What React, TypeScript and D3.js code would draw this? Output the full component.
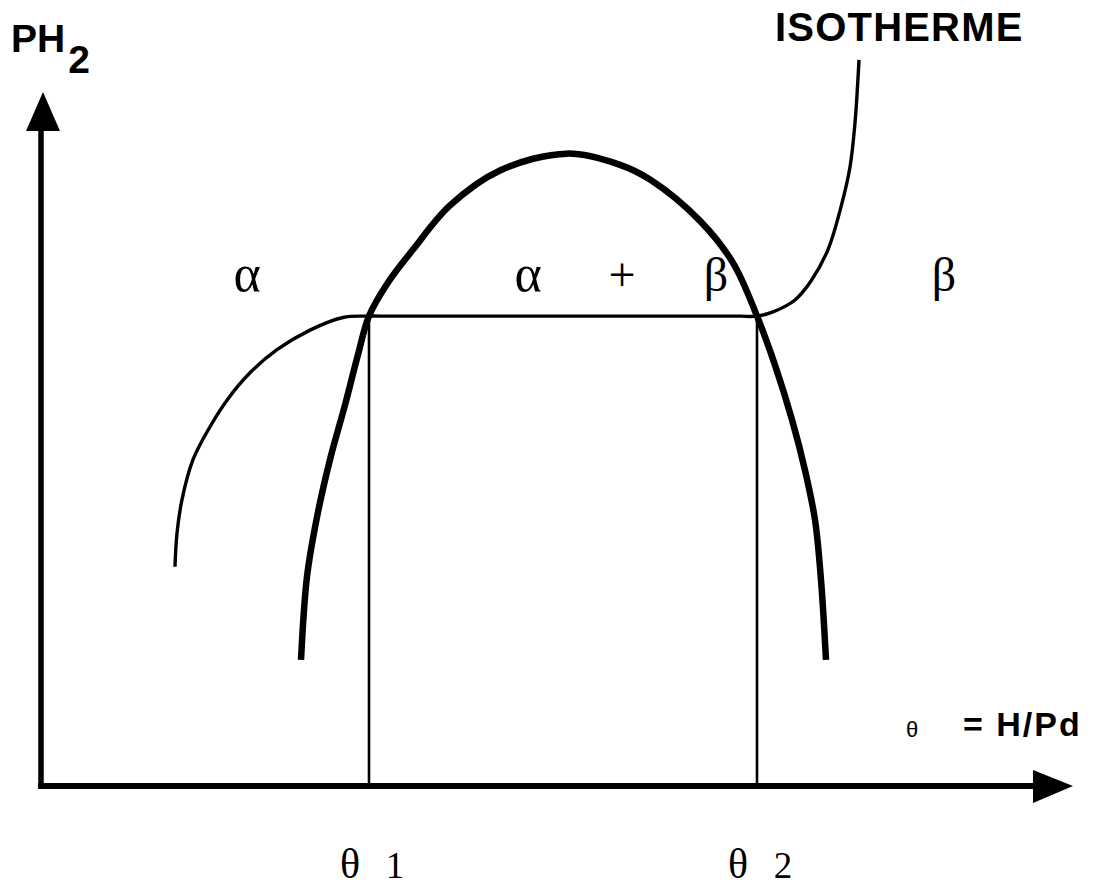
import React from "react";
import * as d3 from "d3";

// schematic units: x = H/Pd, y = PH2 (arbitrary)
const domeX = [2.6, 2.66, 2.76, 2.89, 3.04, 3.17, 3.28, 3.47, 3.72, 4.09, 4.59, 5.26, 5.79, 6.09, 6.59, 6.92, 7.16, 7.34, 7.51, 7.64, 7.74, 7.8, 7.85];
const domeY = [1.8, 2.99, 3.84, 4.66, 5.44, 6.16, 6.71, 7.19, 7.66, 8.29, 8.79, 9.03, 8.87, 8.66, 8.07, 7.47, 6.71, 6.01, 5.23, 4.51, 3.8, 2.94, 1.8];

// isotherm: alpha branch, plateau, beta branch
const isoAlphaX = [1.34, 1.36, 1.41, 1.52, 1.69, 1.86, 2.09, 2.36, 2.69, 3.02, 3.24, 3.4];
const isoAlphaY = [3.13, 3.61, 4.09, 4.66, 5.13, 5.51, 5.9, 6.23, 6.51, 6.69, 6.71, 6.71];
const isoBetaX = [7.0, 7.16, 7.32, 7.54, 7.7, 7.87, 8.0, 8.09, 8.14, 8.18];
const isoBetaY = [6.71, 6.71, 6.77, 6.94, 7.21, 7.66, 8.27, 8.84, 9.47, 10.37];

const plateau = 6.71;
const thetas = [3.28, 7.16];
const thetaNames = ["1", "2"];

const phaseLabels = ["α", "α", "+", "β", "β"];
const phaseX = [2.06, 4.87, 5.81, 6.75, 9.03];
const phaseY = 7.07;

const xMax = 10.32;
const yMax = 9.91;

const W = 1095;
const H = 888;

const App = () => {
  const x = d3.scaleLinear().domain([0, xMax]).range([41, 1073]);
  const y = d3.scaleLinear().domain([0, yMax]).range([786, 92]);

  const curve = (xs: number[]) =>
    d3
      .line<number>()
      .x((d, i) => x(xs[i]))
      .y((d) => y(d))
      .curve(d3.curveCatmullRom.alpha(0.5));

  const x0 = x(0);
  const y0 = y(0);
  const serif = "'Liberation Serif', 'Times New Roman', serif";
  const sans = "'Liberation Sans', Arial, Helvetica, sans-serif";

  return (
    <svg
      width={W}
      height={H}
      viewBox={`0 0 ${W} ${H}`}
      style={{ position: "absolute", left: 0, top: 0, background: "#fff" }}
    >
      {/* axes */}
      <line x1={x0} y1={y0 + 2} x2={x0} y2={y(yMax) + 30} stroke="#000" strokeWidth={5.5} />
      <path
        d={`M${x0 + 2},${y(yMax)} L${x0 - 15},${y(yMax) + 39} L${x0 + 19},${y(yMax) + 39} Z`}
        fill="#000"
      />
      <line x1={x0 - 3} y1={y0} x2={x(xMax) - 30} y2={y0} stroke="#000" strokeWidth={6} />
      <path
        d={`M${x(xMax)},${y0} L${x(xMax) - 40},${y0 - 16} L${x(xMax) - 40},${y0 + 17} Z`}
        fill="#000"
      />

      {/* theta verticals */}
      {thetas.map((t, i) => (
        <line key={i} x1={x(t)} x2={x(t)} y1={y(plateau)} y2={y0} stroke="#000" strokeWidth={2.6} />
      ))}

      {/* isotherm */}
      <g fill="none" stroke="#000" strokeWidth={3.4}>
        <path d={curve(isoAlphaX)(isoAlphaY) || ""} />
        <line
          x1={x(isoAlphaX[isoAlphaX.length - 1])}
          x2={x(isoBetaX[0])}
          y1={y(plateau)}
          y2={y(plateau)}
        />
        <path d={curve(isoBetaX)(isoBetaY) || ""} />
      </g>

      {/* miscibility dome */}
      <path d={curve(domeX)(domeY) || ""} fill="none" stroke="#000" strokeWidth={6.5} />

      {/* phase labels */}
      {phaseLabels.map((s, i) => (
        <text
          key={i}
          x={x(phaseX[i])}
          y={y(phaseY)}
          textAnchor="middle"
          fontFamily={serif}
          fontSize={s === "α" ? 52 : 48}
        >
          {s}
        </text>
      ))}

      {/* theta ticks */}
      {thetas.map((t, i) => (
        <g key={i} fontFamily={serif}>
          <text x={x(t) - 19} y={878} textAnchor="middle" fontSize={42}>
            θ
          </text>
          <text x={x(t) + 26} y={878} textAnchor="middle" fontSize={37}>
            {thetaNames[i]}
          </text>
        </g>
      ))}

      {/* axis titles */}
      <text x={11} y={52} fontFamily={sans} fontWeight="bold" fontSize={39}>
        PH
        <tspan dy={21} dx={3}>
          2
        </tspan>
      </text>
      <text x={775} y={41} fontFamily={sans} fontWeight="bold" fontSize={40} letterSpacing={1.2}>
        ISOTHERME
      </text>
      <text x={912} y={737} textAnchor="middle" fontFamily={sans} fontSize={22}>
        θ
      </text>
      <text x={963} y={736} fontFamily={sans} fontWeight="bold" fontSize={34} letterSpacing={2}>
        = H/Pd
      </text>
    </svg>
  );
};

export default App;
